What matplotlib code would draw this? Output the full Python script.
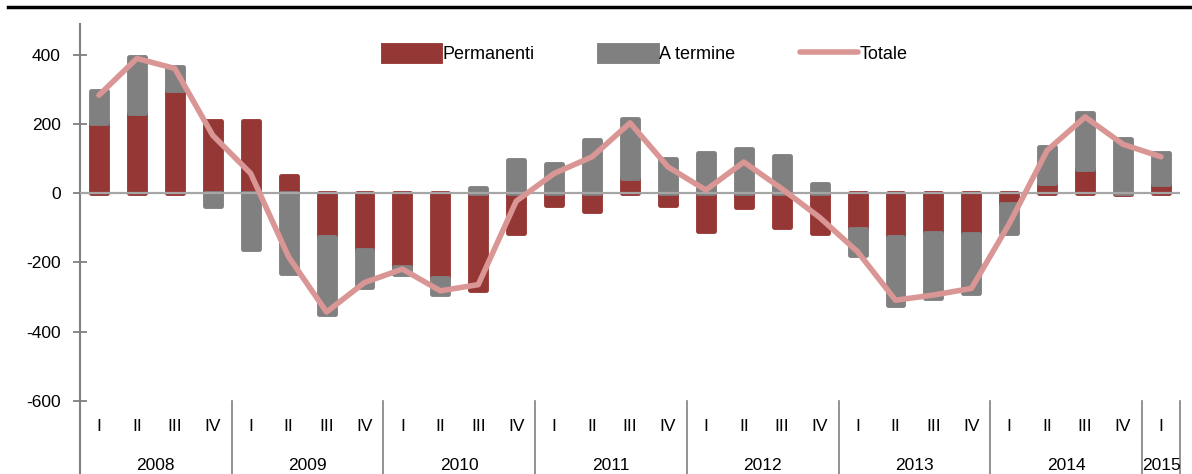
import numpy as np
import matplotlib
matplotlib.use("Agg")
from matplotlib import pyplot as plt
from matplotlib import font_manager
from matplotlib.lines import Line2D
from matplotlib.transforms import blended_transform_factory

installed = {f.name for f in font_manager.fontManager.ttflist}
if "Liberation Sans Narrow" in installed:
    plt.rcParams["font.family"] = ["Liberation Sans Narrow", "DejaVu Sans"]
    FONTSIZE = 14
    LEGEND_FS = 15
else:
    # no narrow face: regular Arial-metric font a bit smaller
    plt.rcParams["font.family"] = ["Liberation Sans", "DejaVu Sans"]
    FONTSIZE = 12.5
    LEGEND_FS = 13
plt.rcParams["axes.unicode_minus"] = False

RED = "#953735"
GREY = "#808080"
PINK = "#D99694"

years = ["2008", "2009", "2010", "2011", "2012", "2013", "2014", "2015"]
quarters = ["I", "II", "III", "IV"] * 7 + ["I"]

permanenti = [203, 232, 299, 209,
              209, 49, -126, -164,
              -213, -246, -280, -114,
              -33, -52, 44, -33,
              -110, -39, -97, -114,
              -102, -126, -114, -118,
              -30, 30, 71, -3,
              26]
a_termine = [92, 161, 66, -37,
             -160, -229, -224, -106,
             -19, -45, 14, 95,
             83, 153, 170, 100,
             116, 129, 107, 26,
             -77, -197, -190, -169,
             -85, 104, 161, 155,
             90]
totale = [283, 389, 360, 167,
          57, -184, -343, -258,
          -219, -282, -264, -23,
          57, 105, 203, 76,
          9, 90, 13, -70,
          -169, -309, -294, -275,
          -88, 124, 220, 141,
          105]

x = np.arange(len(quarters))
perm = np.array(permanenti)
term = np.array(a_termine)
bottom_term = np.where(np.sign(perm) == np.sign(term), perm, 0)

fig = plt.figure(figsize=(11.92, 4.74), dpi=100)
ax = fig.add_axes([80 / 1192, 0.154, 1100 / 1192, 381 / 474])

bar_kw = dict(width=0.42, linewidth=3.5, joinstyle="round", zorder=2)
b1 = ax.bar(x, perm, color=RED, edgecolor=RED, label="Permanenti", **bar_kw)
b2 = ax.bar(x, term, bottom=bottom_term, color=GREY, edgecolor=GREY, label="A termine", **bar_kw)
ax.axhline(0, color="#A6A6A6", linewidth=1.6, zorder=3)
l1, = ax.plot(x, totale, color=PINK, linewidth=4, solid_capstyle="round", label="Totale", zorder=4)

ax.set_xlim(-0.5, len(quarters) - 0.5)
ax.set_ylim(-600, 500)
ax.set_yticks([-600, -400, -200, 0, 200, 400])
ax.tick_params(axis="y", direction="inout", length=10, width=1.3, color=GREY,
               labelsize=FONTSIZE, pad=9)
ax.set_xticks([])
for side in ["top", "right", "bottom", "left"]:
    ax.spines[side].set_visible(False)

trans = blended_transform_factory(ax.transData, ax.transAxes)
ax.plot([-0.5, -0.5], [-0.2, 0.99], color=GREY, linewidth=1.5, transform=trans, clip_on=False)
for pos, q in zip(x, quarters):
    ax.text(pos, -0.068, q, transform=trans, ha="center", va="center", fontsize=FONTSIZE)
for i, yr in enumerate(years):
    start = i * 4
    end = min(start + 4, len(quarters))
    ax.text((start + end - 1) / 2, -0.168, yr, transform=trans, ha="center", va="center",
            fontsize=FONTSIZE)
    ax.plot([end - 0.5, end - 0.5], [-0.2, 0], color=GREY, linewidth=1.2,
            transform=trans, clip_on=False)

fig.add_artist(Line2D([8 / 1192, 1], [1 - 7 / 474] * 2, color="black", linewidth=2.5))

ax.legend([b1, b2, l1], ["Permanenti", "A termine", "Totale"],
          loc="center", bbox_to_anchor=(645 / 1192, 1 - 54 / 474), bbox_transform=fig.transFigure,
          ncol=3, frameon=False, fontsize=LEGEND_FS, handlelength=3.2, handleheight=1.0,
          handletextpad=0.1, columnspacing=3.6, borderaxespad=0)

fig.savefig("out.png", dpi=100)
